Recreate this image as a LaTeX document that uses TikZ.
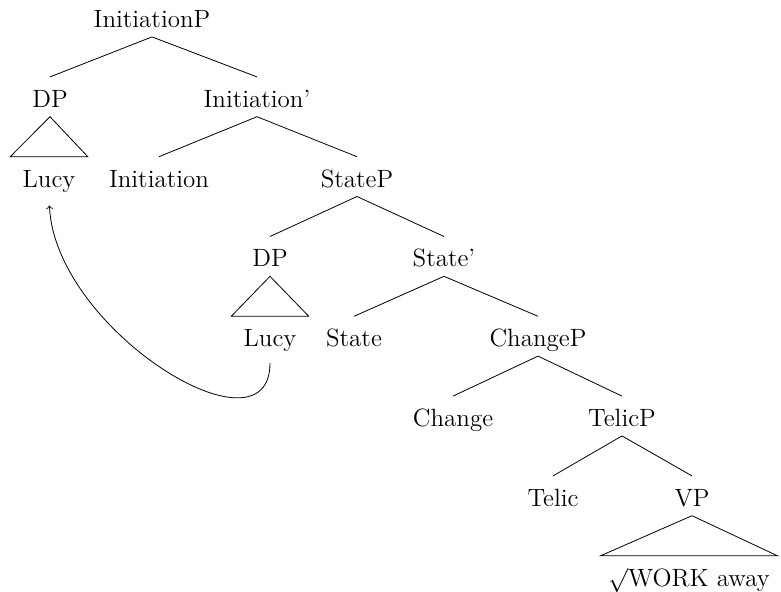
\documentclass[tikz,border=0pt]{standalone}
\usepackage{tikz}
\usetikzlibrary{arrows,positioning,calc}
\usepackage{amssymb,amsmath}

\begin{document}
\begin{tikzpicture}[x=0.5pt,y=-0.5pt,>=to,thin]
	\tikzstyle{every node}=[anchor=base,font=\fontsize{12.5}{15}\selectfont,
		text height=11.7pt,text depth=1.2pt,inner ysep=3.3pt,inner xsep=2pt]
	\tikzstyle{roof}=[inner xsep=6pt]
	\useasboundingbox (0,0) rectangle (781,591);

	\node (IP)    at (152,27.5)  {InitiationP};
	\node (DPa)   at (50,107.3)  {DP};
	\node (Ibar)  at (257,107.3) {Initiation'};
	\node[roof] (LucyA) at (49,187.1)  {Lucy};
	\node (Ini)   at (159,187.1) {Initiation};
	\node (SP)    at (357,187.1) {StateP};
	\node (DPb)   at (270,266.9) {DP};
	\node (Sbar)  at (444,266.9) {State'};
	\node[roof] (LucyB) at (270,346.7) {Lucy};
	\node (St)    at (354,346.7) {State};
	\node (CP)    at (538,346.7) {ChangeP};
	\node (Ch)    at (453,426.5) {Change};
	\node (TP)    at (622,426.5) {TelicP};
	\node (Tel)   at (553,506.3) {Telic};
	\node (VP)    at (692,506.3) {VP};
	\node[roof,inner xsep=3.5pt] (Work) at (689,586.1) {$\surd$WORK away};

	\draw (IP.south) -- (DPa.north) (IP.south) -- (Ibar.north);
	\draw (DPa.south) -- (LucyA.north west) -- (LucyA.north east) -- cycle;
	\draw (Ibar.south) -- (Ini.north) (Ibar.south) -- (SP.north);
	\draw (SP.south) -- (DPb.north) (SP.south) -- (Sbar.north);
	\draw (DPb.south) -- (LucyB.north west) -- (LucyB.north east) -- cycle;
	\draw (Sbar.south) -- (St.north) (Sbar.south) -- (CP.north);
	\draw (CP.south) -- (Ch.north) (CP.south) -- (TP.north);
	\draw (TP.south) -- (Tel.north) (TP.south) -- (VP.north);
	\draw (VP.south) -- (Work.north west) -- (Work.north east) -- cycle;

	% movement
	\draw[->,shorten <=3.5pt,shorten >=4.5pt] (LucyB.south)
		.. controls +(0,106) and +(6,134) .. (LucyA.south);
\end{tikzpicture}
\end{document}
